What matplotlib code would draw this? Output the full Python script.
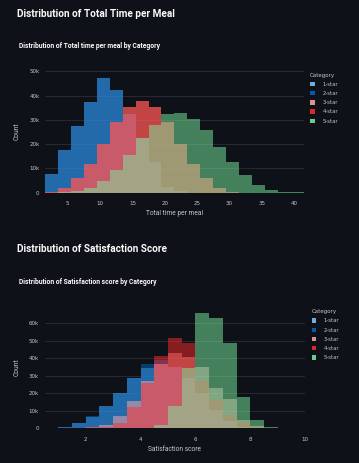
import numpy as np
import matplotlib
matplotlib.use("Agg")
import matplotlib.pyplot as plt
from matplotlib.patches import Patch
from matplotlib import font_manager as fm

# ---- data (counts in thousands) ----
categories = ['1-star', '2-star', '3-star', '4-star', '5-star']
cat_colors = ['#83C9FF', '#0068C9', '#FFABAB', '#FF2B2B', '#7DEFA1']

# Total time per meal: 20 bins of width 2 starting at 1.5
time_bin_start = 1.5
time_bin_width = 2
time_1star = [7.6, 17.4, 27.6, 37.5, 47.4, 42.3, 32.3, 22.5, 12.5, 2.5, 0.5, 0, 0, 0, 0, 0, 0, 0, 0, 0]
time_2star = [7.6, 17.4, 27.6, 37.5, 47.4, 42.3, 32.3, 22.5, 12.5, 2.5, 0.5, 0, 0, 0, 0, 0, 0, 0, 0, 0]
time_3star = [0.4, 2, 6, 12, 20, 29, 35.4, 37.8, 35.2, 29.3, 20, 12, 6, 2, 0.4, 0, 0, 0, 0, 0]
time_4star = [0.4, 2, 6, 12, 20, 29, 35.4, 37.8, 35.2, 29.3, 20, 12, 6, 2, 0.4, 0, 0, 0, 0, 0]
time_5star = [0, 0.2, 0.7, 2, 4.8, 9.2, 15.5, 22.4, 27.9, 32.3, 32.7, 30.4, 25.7, 18.8, 12.5, 7.3, 3.2, 1.1, 0.3, 0.1]
time_xticks = [5, 10, 15, 20, 25, 30, 35, 40]
time_yticks = [0, 10, 20, 30, 40, 50]

# Satisfaction score: 19 bins of width 0.5 starting at 0.5
sat_bin_start = 0.5
sat_bin_width = 0.5
sat_1star = [0.4, 0.8, 2.9, 6.5, 12.8, 20, 28.8, 34.3, 37, 35, 28.6, 20, 10.5, 4, 1, 0.3, 0, 0, 0]
sat_2star = [0.4, 0.8, 3.2, 7, 13, 20, 28.8, 37, 39, 35, 28.6, 20, 10.5, 4, 1, 0.3, 0, 0, 0]
sat_3star = [0, 0, 0.2, 1, 2, 7, 15.8, 27, 37, 43, 41, 35, 22.8, 17, 5, 1.5, 0.3, 0, 0]
sat_4star = [0, 0, 0, 0.5, 1, 3.2, 12.4, 26, 41.5, 51.4, 49, 27, 16.2, 7.6, 3.8, 0.8, 0.1, 0, 0]
sat_5star = [0, 0, 0, 0, 0, 0, 0, 0.3, 2, 12.8, 34.3, 66, 63.2, 49, 17.7, 4.6, 0.6, 0.3, 0.1]
sat_xticks = [2, 4, 6, 8, 10]
sat_yticks = [0, 10, 20, 30, 40, 50, 60]

BG = '#0E1117'
GRID = '#2b2e37'
TXT = '#fafafa'
TICK = '#c3c6cd'

installed = {f.name for f in fm.fontManager.ttflist}
head_font = 'Liberation Sans Narrow' if 'Liberation Sans Narrow' in installed else 'Roboto'

W, H = 359, 463
fig = plt.figure(figsize=(W / 100, H / 100), dpi=100, facecolor=BG)


def px_axes(left, right, top, bottom):
    return fig.add_axes([left / W, 1 - bottom / H, (right - left) / W, (bottom - top) / H])


def draw_hist(ax, start, width, series, xlim, ylim, xticks, yticks, xlabel):
    ax.set_facecolor(BG)
    n = len(series[0])
    edges = start + width * np.arange(n)
    for vals, col in zip(series, cat_colors):
        ax.bar(edges, vals, width=width, align='edge', color=col, alpha=0.5,
               linewidth=0, zorder=2)
    ax.set_xlim(*xlim)
    ax.set_ylim(*ylim)
    ax.set_xticks(xticks)
    ax.set_yticks(yticks)
    ax.set_yticklabels(['0' if v == 0 else f'{v}k' for v in yticks])
    ax.grid(axis='y', color=GRID, linewidth=0.6, zorder=0)
    ax.tick_params(length=0, labelsize=4, colors=TICK, pad=4)
    ax.tick_params(axis='x', pad=6)
    for s in ax.spines.values():
        s.set_visible(False)
    ax.set_xlabel(xlabel, fontsize=4.8, color=TICK, labelpad=3, family='Roboto')
    ax.set_ylabel('Count', fontsize=4.8, color=TICK, labelpad=6, family='Roboto')
    handles = [Patch(facecolor=c, edgecolor='none', alpha=0.85, label=l)
               for c, l in zip(cat_colors, categories)]
    leg = ax.legend(handles=handles, title='Category', loc='upper left',
                    bbox_to_anchor=(1.025, 0.98), frameon=False, fontsize=3.8,
                    title_fontsize=4, handlelength=0.9, handleheight=0.9,
                    labelspacing=0.8, handletextpad=1.4, borderaxespad=0,
                    borderpad=0)
    leg._legend_box.align = 'left'
    for t in leg.get_texts():
        t.set_color(TICK)
    leg.get_title().set_color(TICK)


ax1 = px_axes(45.1, 303.7, 70.1, 192.7)
draw_hist(ax1, time_bin_start, time_bin_width,
          [time_1star, time_2star, time_3star, time_4star, time_5star],
          (1.5, 41.5), (0, 50.5), time_xticks, time_yticks, 'Total time per meal')

ax2 = px_axes(44.5, 305.1, 306.7, 428.3)
draw_hist(ax2, sat_bin_start, sat_bin_width,
          [sat_1star, sat_2star, sat_3star, sat_4star, sat_5star],
          (0.5, 10), (0, 69.5), sat_xticks, sat_yticks, 'Satisfaction score')

fig.text(17 / W, 1 - 14 / H, 'Distribution of Total Time per Meal', fontsize=7.2,
         fontweight='bold', color=TXT, va='center', family=head_font)
fig.text(19 / W, 1 - 46.5 / H, 'Distribution of Total time per meal by Category',
         fontsize=4.9, fontweight='bold', color=TXT, va='center', family=head_font)
fig.text(17 / W, 1 - 248.5 / H, 'Distribution of Satisfaction Score', fontsize=7.2,
         fontweight='bold', color=TXT, va='center', family=head_font)
fig.text(19 / W, 1 - 282 / H, 'Distribution of Satisfaction score by Category',
         fontsize=4.9, fontweight='bold', color=TXT, va='center', family=head_font)

fig.savefig('out.png', dpi=100, facecolor=BG)
